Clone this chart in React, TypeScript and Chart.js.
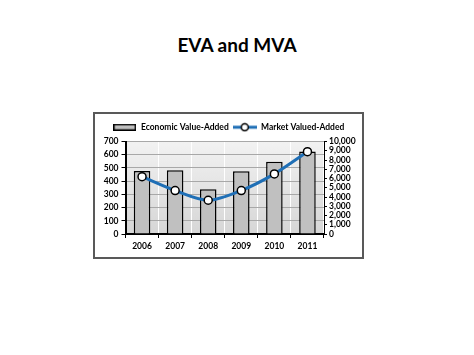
import React, { useEffect, useRef } from "react";
import { Chart, registerables } from "chart.js";

Chart.register(...registerables);

const years = ["2006", "2007", "2008", "2009", "2010", "2011"];
const evaValues = [476, 482, 338, 475, 546, 624];
const mvaValues = [6200, 4700, 3650, 4700, 6500, 8900];
const titleText = "EVA and MVA";
const evaLabel = "Economic Value-Added";
const mvaLabel = "Market Valued-Added";

const FONT = "Lato, 'Open Sans', sans-serif";
const BLUE = "#1f6fb6";

function makeBarIcon(): HTMLCanvasElement {
  const c = document.createElement("canvas");
  c.width = 23;
  c.height = 7;
  const ctx = c.getContext("2d")!;
  ctx.fillStyle = "#c0c0c0";
  ctx.fillRect(1, 1, 21, 5);
  ctx.strokeStyle = "#000";
  ctx.lineWidth = 1.5;
  ctx.strokeRect(0.75, 0.75, 21.5, 5.5);
  return c;
}

function makeLineIcon(): HTMLCanvasElement {
  const c = document.createElement("canvas");
  c.width = 24;
  c.height = 10;
  const ctx = c.getContext("2d")!;
  ctx.strokeStyle = BLUE;
  ctx.lineWidth = 3;
  ctx.beginPath();
  ctx.moveTo(0, 5);
  ctx.lineTo(24, 5);
  ctx.stroke();
  ctx.beginPath();
  ctx.arc(12, 5, 3.5, 0, Math.PI * 2);
  ctx.fillStyle = "#fff";
  ctx.fill();
  ctx.strokeStyle = "#000";
  ctx.lineWidth = 1.5;
  ctx.stroke();
  return c;
}

const plotBg = {
  id: "plotBg",
  beforeDraw(chart: any) {
    const { ctx, chartArea } = chart;
    if (!chartArea) return;
    const g = ctx.createLinearGradient(0, chartArea.top, 0, chartArea.bottom);
    g.addColorStop(0, "#f2f2f2");
    g.addColorStop(1, "#d6d6d6");
    ctx.save();
    ctx.fillStyle = g;
    ctx.fillRect(chartArea.left, chartArea.top, chartArea.right - chartArea.left, chartArea.bottom - chartArea.top);
    ctx.restore();
  },
};

export default function App() {
  const ref = useRef<HTMLCanvasElement>(null);

  useEffect(() => {
    if (!ref.current) return;
    const barIcon = makeBarIcon();
    const lineIcon = makeLineIcon();
    const tickFont = { family: FONT, size: 8.5, weight: "bold" as const };
    const chart = new Chart(ref.current, {
      type: "bar",
      data: {
        labels: years,
        datasets: [
          {
            type: "bar",
            label: evaLabel,
            data: evaValues,
            backgroundColor: "#c0c0c0",
            borderColor: "#000",
            borderWidth: 1.5,
            categoryPercentage: 1,
            barPercentage: 0.5,
            yAxisID: "y",
            order: 2,
          },
          {
            type: "line",
            label: mvaLabel,
            data: mvaValues,
            borderColor: BLUE,
            borderWidth: 3,
            tension: 0.3,
            pointRadius: 4,
            pointBackgroundColor: "#fff",
            pointBorderColor: "#000",
            pointBorderWidth: 1.5,
            yAxisID: "y1",
            order: 1,
          } as any,
        ],
      },
      options: {
        animation: false,
        responsive: false,
        maintainAspectRatio: false,
        layout: { padding: { left: 0, right: 0, top: 5, bottom: 0 } },
        plugins: {
          tooltip: { enabled: false },
          legend: {
            display: true,
            position: "top",
            labels: {
              usePointStyle: true,
              pointStyleWidth: 24,
              boxHeight: 8,
              padding: 4,
              color: "#000",
              font: { family: FONT, size: 8.5, weight: "bold" },
              generateLabels: () => [
                { text: evaLabel, pointStyle: barIcon as any, datasetIndex: 0, fillStyle: "#c0c0c0", strokeStyle: "#000", lineWidth: 0, hidden: false, fontColor: "#000" },
                { text: mvaLabel, pointStyle: lineIcon as any, datasetIndex: 1, fillStyle: "#fff", strokeStyle: BLUE, lineWidth: 0, hidden: false, fontColor: "#000" },
              ],
            },
          },
        },
        scales: {
          x: {
            offset: true,
            afterFit: (s: any) => { s.height = 23; },
            grid: { color: "#ffffff", lineWidth: 1, tickColor: "#000", tickLength: 4, offset: true },
            border: { color: "#000", width: 2 },
            ticks: { color: "#000", font: tickFont, padding: 3 },
          },
          y: {
            position: "left",
            min: 0,
            max: 700,
            afterFit: (s: any) => { s.width = 30.5; },
            grid: { color: "#a8a8a8", lineWidth: 1, tickColor: "#000", tickLength: 4 },
            border: { color: "#000", width: 2 },
            ticks: { stepSize: 100, autoSkip: false, color: "#000", font: tickFont, padding: 3 },
          },
          y1: {
            position: "right",
            min: 0,
            max: 10000,
            afterFit: (s: any) => { s.width = 38; },
            grid: { drawOnChartArea: false, tickColor: "#000", tickLength: 3 },
            border: { color: "#000", width: 1 },
            ticks: {
              stepSize: 1000,
              autoSkip: false,
              color: "#000",
              font: tickFont,
              padding: 2,
              callback: (v: any) => Number(v).toLocaleString("en-US"),
            },
          },
        },
      },
      plugins: [plotBg],
    });
    return () => chart.destroy();
  }, []);

  return (
    <div style={{ position: "absolute", left: 0, top: 0, width: 474, height: 355, background: "#fff" }}>
      <div
        style={{
          position: "absolute",
          left: 0,
          top: 32,
          width: 474,
          textAlign: "center",
          fontFamily: FONT,
          fontWeight: "bold",
          fontSize: 19,
          lineHeight: "26px",
          color: "#000",
        }}
      >
        {titleText}
      </div>
      <div
        style={{
          position: "absolute",
          left: 93,
          top: 112,
          width: 271,
          height: 147,
          border: "2px solid #595959",
          boxSizing: "border-box",
          background: "#fff",
        }}
      >
        <canvas ref={ref} width={267} height={143} style={{ display: "block", width: 267, height: 143 }} />
      </div>
    </div>
  );
}
